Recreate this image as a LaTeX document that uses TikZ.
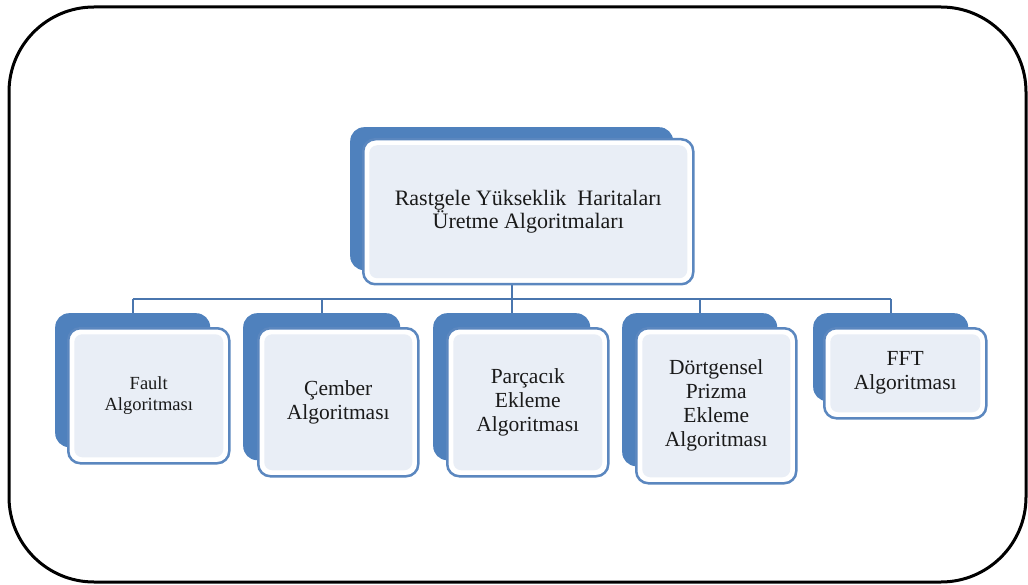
\documentclass[tikz,border=0pt]{standalone}
\usepackage{fontspec}
\setmainfont{Liberation Serif}
\usetikzlibrary{calc}

\definecolor{backblue}{HTML}{4F81BD}
\definecolor{edgeblue}{HTML}{5B87BF}
\definecolor{linkblue}{HTML}{4A76AE}
\definecolor{panefill}{HTML}{E9EEF6}
\definecolor{inktext}{HTML}{1A1A1A}

\tikzset{
  frame/.style={draw=black, line width=3pt, rounded corners=85pt},
  link/.style={draw=linkblue, line width=2pt},
  backbox/.style={fill=backblue, draw=none, rounded corners=14pt,
    inner sep=0pt, anchor=north west},
  frontbox/.style={draw=edgeblue, line width=2.5pt, fill=white,
    rounded corners=12pt, inner sep=0pt, anchor=north west,
    align=center, text=inktext,
    path picture={\fill[panefill, rounded corners=8pt]
      ([shift={(6,6)}]path picture bounding box.north west) rectangle
      ([shift={(-6,-6)}]path picture bounding box.south east);}},
  toptext/.style={font=\fontsize{22}{23}\selectfont},
  kidtext/.style={font=\fontsize{21.5}{24}\selectfont},
  smalltext/.style={font=\fontsize{18.5}{21.5}\selectfont}
}

\begin{document}
\begin{tikzpicture}[x=1pt, y=-1pt]
\useasboundingbox (0,0) rectangle (1028,585);

% outer rounded frame
\draw[frame] (9,7) rectangle (1026,582);

% back (shadow) plates
\node[backbox, minimum width=323, minimum height=143] (tb) at (350,127) {};
\node[backbox, minimum width=155, minimum height=134] (b1) at (55,313) {};
\node[backbox, minimum width=157, minimum height=147] (b2) at (243,313) {};
\node[backbox, minimum width=157, minimum height=147] (b3) at (433,313) {};
\node[backbox, minimum width=155, minimum height=153] (b4) at (622,313) {};
\node[backbox, minimum width=155, minimum height=88]  (b5) at (813,313) {};

% connectors
\coordinate (hub) at ($(tb.south)+(0,29)$);
\draw[link] (tb.south) -- (hub);
\draw[link] (b1.north |- hub) -- (b5.north |- hub);
\foreach \k in {b1,b2,b3,b4,b5}
  \draw[link] (\k.north |- hub) -- (\k.north);

% front plates with labels
\node[frontbox, toptext, minimum width=330, minimum height=145] (tf) at (362,138)
  {Rastgele Yükseklik\ \ Haritaları\\Üretme Algoritmaları};
\node[frontbox, smalltext, minimum width=161, minimum height=135] (f1) at (67,327)
  {Fault\\Algoritması};
\node[frontbox, kidtext, minimum width=160, minimum height=148] (f2) at (257,327)
  {Çember\\Algoritması};
\node[frontbox, kidtext, minimum width=161, minimum height=148] (f3) at (446,327)
  {Parçacık\\Ekleme\\Algoritması};
\node[frontbox, kidtext, minimum width=160, minimum height=155] (f4) at (635,327)
  {Dörtgensel\\Prizma\\Ekleme\\Algoritması};
\node[frontbox, kidtext, minimum width=162, minimum height=90] (f5) at (823,327)
  {FFT\\Algoritması};
\end{tikzpicture}
\end{document}
